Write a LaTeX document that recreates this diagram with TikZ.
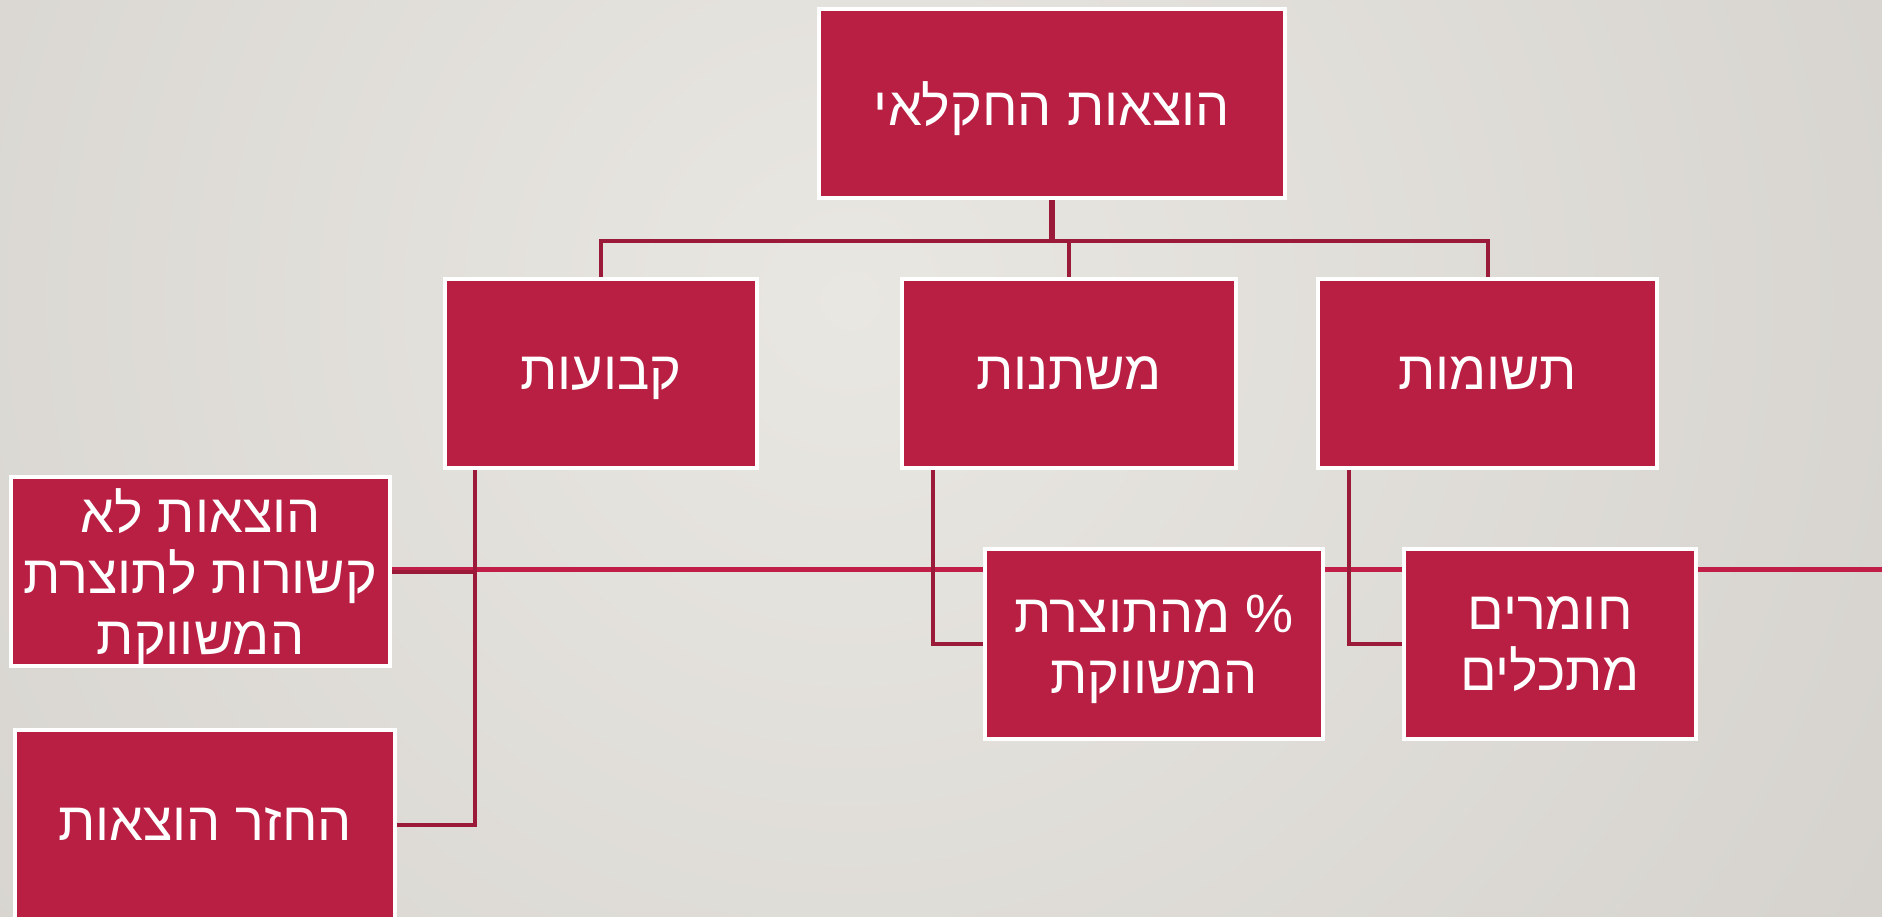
\documentclass[tikz,border=0pt]{standalone}
\usepackage{fontspec}
\usepackage{xcolor}
\newfontfamily\hebfont[Script=Hebrew]{Liberation Sans}
\TeXXeTstate=1
\usetikzlibrary{calc}
\definecolor{boxred}{RGB}{185, 30, 67}
\definecolor{linkred}{RGB}{155, 26, 58}
\definecolor{barred}{RGB}{192, 30, 70}
\definecolor{bgin}{RGB}{233, 231, 226}
\definecolor{bgout}{RGB}{213, 210, 205}
\newcommand{\heb}[1]{\beginR#1\endR}
\pgfdeclarelayer{back}
\pgfsetlayers{back,main}

\begin{document}
\begin{tikzpicture}[
          x=1pt, y=-1pt,
          box/.style={draw=white, line width=4pt, fill=boxred, text=white,
                      font=\hebfont\fontsize{54}{61}\selectfont, align=center,
                      inner sep=0pt, text depth=0pt, minimum height=189pt},
          conn/.style={draw=linkred, line width=4pt},
          bar/.style={draw=barred, line width=5pt},
        ]
        \useasboundingbox (0,0) rectangle (1882,916);
        \node[box, minimum width=466pt] (top) at (1052,103.5) {\heb{הוצאות החקלאי}};
        \node[box, minimum width=312pt] (fix) at (601,373.5) {\heb{קבועות}};
        \node[box, minimum width=334pt] (var) at (1069,373.5) {\heb{משתנות}};
        \node[box, minimum width=339pt] (inp) at (1487.5,373.5) {\heb{תשומות}};
        \node[box, minimum width=379pt] (non) at (200.5,571.5)
             {\heb{הוצאות לא}\\\heb{קשורות לתוצרת}\\\heb{המשווקת}};
        \node[box, minimum width=380pt] (ret) at (205,824.5) {\heb{החזר הוצאות}};
        \node[box, minimum width=338pt, minimum height=190pt] (pct) at (1154,644)
             {\heb{\% מהתוצרת}\\\heb{המשווקת}};
        \node[box, minimum width=292pt, minimum height=190pt] (mat) at (1550,644)
             {\heb{חומרים}\\\heb{מתכלים}};
        \coordinate (bus) at ($(top.south)+(0,41)$);
        \coordinate (fixdrop) at ($(fix.south west)+(31.5,0)$);
        \coordinate (vardrop) at ($(var.south west)+(33,0)$);
        \coordinate (inpdrop) at ($(inp.south west)+(33,0)$);
        \coordinate (edge) at (1882,569.5);
        \begin{pgfonlayer}{back}
          \begin{scope}
            \clip (0,0) rectangle (1882,916);
            \fill[bgout] (0,0) rectangle (1882,916);
            \shade[inner color=bgin, outer color=bgout] (850,300) circle (1250);
          \end{scope}
          \draw[bar] (non.east |- edge) -- (edge);
          \draw[conn, line width=6pt] (top.south) -- (bus);
          \draw[conn] (fix.north) |- (bus) -| (inp.north);
          \draw[conn] (var.north) -- (var.north |- bus);
          \draw[conn] (fixdrop) |- (ret.east);
          \draw[conn] (non.east) ++(0,0.5) -| (fixdrop);
          \draw[conn] (vardrop) |- (pct.west);
          \draw[conn] (inpdrop) |- (mat.west);
        \end{pgfonlayer}
      \end{tikzpicture}
\end{document}
